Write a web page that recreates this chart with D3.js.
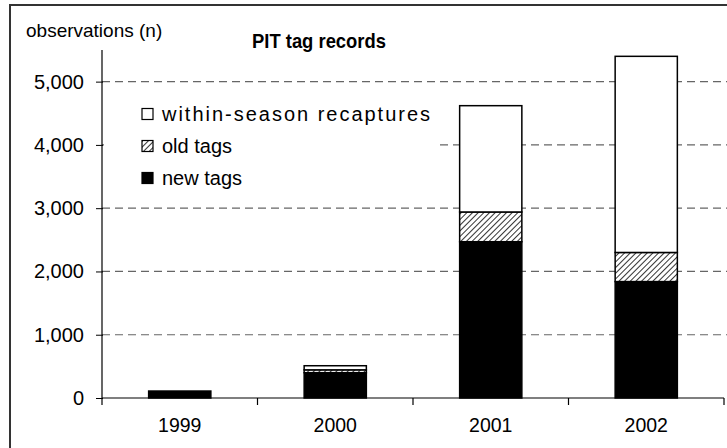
<!DOCTYPE html>
<html><head><meta charset="utf-8">
<script src="https://cdn.jsdelivr.net/npm/d3@7"></script>
<style>body{margin:0;background:#fff}svg{display:block}text{font-family:"Liberation Sans",Arial,sans-serif}</style>
</head><body>
<svg id="chart" width="727" height="448"></svg>
<script>
const years = ["1999", "2000", "2001", "2002"];
const newTags = [110, 400, 2470, 1840];
const oldTags = [0, 45, 470, 460];
const recaptures = [0, 65, 1680, 3100];
const seriesNames = ["new tags", "old tags", "within-season recaptures"];
const yTicks = [0, 1000, 2000, 3000, 4000, 5000];

const svg = d3.select("#chart");
const defs = svg.append("defs");
const pat = defs.append("pattern").attr("id","hatch").attr("patternUnits","userSpaceOnUse")
  .attr("width",4).attr("height",4).attr("patternTransform","rotate(45)");
pat.append("rect").attr("width",4).attr("height",4).attr("fill","#fff");
pat.append("line").attr("x1",0).attr("y1",0).attr("x2",0).attr("y2",4).attr("stroke","#000").attr("stroke-width",1.6);

// frame
svg.append("rect").attr("x",10).attr("y",5).attr("width",760).attr("height",500)
  .attr("fill","none").attr("stroke","#333").attr("stroke-width",2);

const x = d3.scaleBand().domain(years).range([102, 724]).paddingInner(0.6).paddingOuter(0.3);
const y = d3.scaleLinear().domain([0, 5500]).range([398, 50]);

// gridlines
svg.append("g").selectAll("line").data(yTicks.filter(d=>d>0)).join("line")
  .attr("x1",102).attr("x2",727).attr("y1",d=>y(d)).attr("y2",d=>y(d))
  .attr("stroke","#666").attr("stroke-width",1.2).attr("stroke-dasharray","8,5");

// stacked bars
const rows = years.map((yr,i)=>({year:yr, "new tags":newTags[i], "old tags":oldTags[i], "within-season recaptures":recaptures[i]}));
const stack = d3.stack().keys(seriesNames)(rows);
const fills = {"new tags":"#000","old tags":"url(#hatch)","within-season recaptures":"#fff"};
svg.append("g").selectAll("g").data(stack).join("g")
  .attr("fill",d=>fills[d.key])
  .selectAll("rect").data(d=>d.filter(s=>s[1]-s[0]>0)).join("rect")
  .attr("x",d=>x(d.data.year)).attr("width",x.bandwidth())
  .attr("y",d=>y(d[1])).attr("height",d=>y(d[0])-y(d[1]))
  .attr("stroke","#000").attr("stroke-width",1.5);

// legend with white background
const lg = svg.append("g");
lg.append("rect").attr("x",104).attr("y",96).attr("width",336).attr("height",98).attr("fill","#fff");
const legItems = [
  {name:"within-season recaptures", fill:"#fff", cy:114, len:268},
  {name:"old tags", fill:"url(#hatch)", cy:146, len:null},
  {name:"new tags", fill:"#000", cy:178, len:null}
];
legItems.forEach(it=>{
  lg.append("rect").attr("x",142).attr("y",it.cy-5.5).attr("width",11).attr("height",11)
    .attr("fill",it.fill).attr("stroke","#000").attr("stroke-width",1.2);
  const t = lg.append("text").attr("x",162).attr("y",it.cy+7).attr("font-size",20).attr("fill","#000").text(it.name);
  if(it.len) t.attr("textLength",it.len).attr("lengthAdjust","spacing");
});

// y axis
const yAxis = d3.axisLeft(y).tickValues(yTicks).tickSize(6).tickPadding(12).tickFormat(d3.format(","));
const ya = svg.append("g").attr("transform","translate(102,0)").call(yAxis);
ya.select(".domain").attr("stroke","#000").attr("stroke-width",1.2).attr("d","M0,50V398");
ya.selectAll(".tick line").attr("stroke","#000").attr("x2",-6).attr("x1",1);
ya.selectAll("text").attr("font-size",20).attr("fill","#000").attr("font-family","Liberation Sans, Arial, sans-serif");

// x axis
const xa = svg.append("g").attr("transform","translate(0,398)");
xa.append("line").attr("x1",102).attr("x2",724).attr("stroke","#000").attr("stroke-width",1.2);
const edges = [102].concat(years.map(yr=>x(yr)+x.bandwidth()+ (x.step()-x.bandwidth())/2));
xa.selectAll("line.tk").data(edges).join("line").attr("class","tk")
  .attr("x1",d=>d).attr("x2",d=>d).attr("y1",0).attr("y2",7).attr("stroke","#000").attr("stroke-width",1.2);
xa.selectAll("text").data(years).join("text")
  .attr("x",d=>x(d)+x.bandwidth()/2).attr("y",34).attr("text-anchor","middle")
  .attr("font-size",19.5).attr("fill","#000").text(d=>d);

// titles
svg.append("text").attr("x",26).attr("y",37).attr("font-size",19).attr("fill","#000").text("observations (n)");
svg.append("text").attr("x",319).attr("y",48).attr("text-anchor","middle").attr("font-size",21)
  .attr("font-weight","bold").attr("fill","#000")
  .attr("textLength",134).attr("lengthAdjust","spacingAndGlyphs").text("PIT tag records");
</script>
</body></html>
